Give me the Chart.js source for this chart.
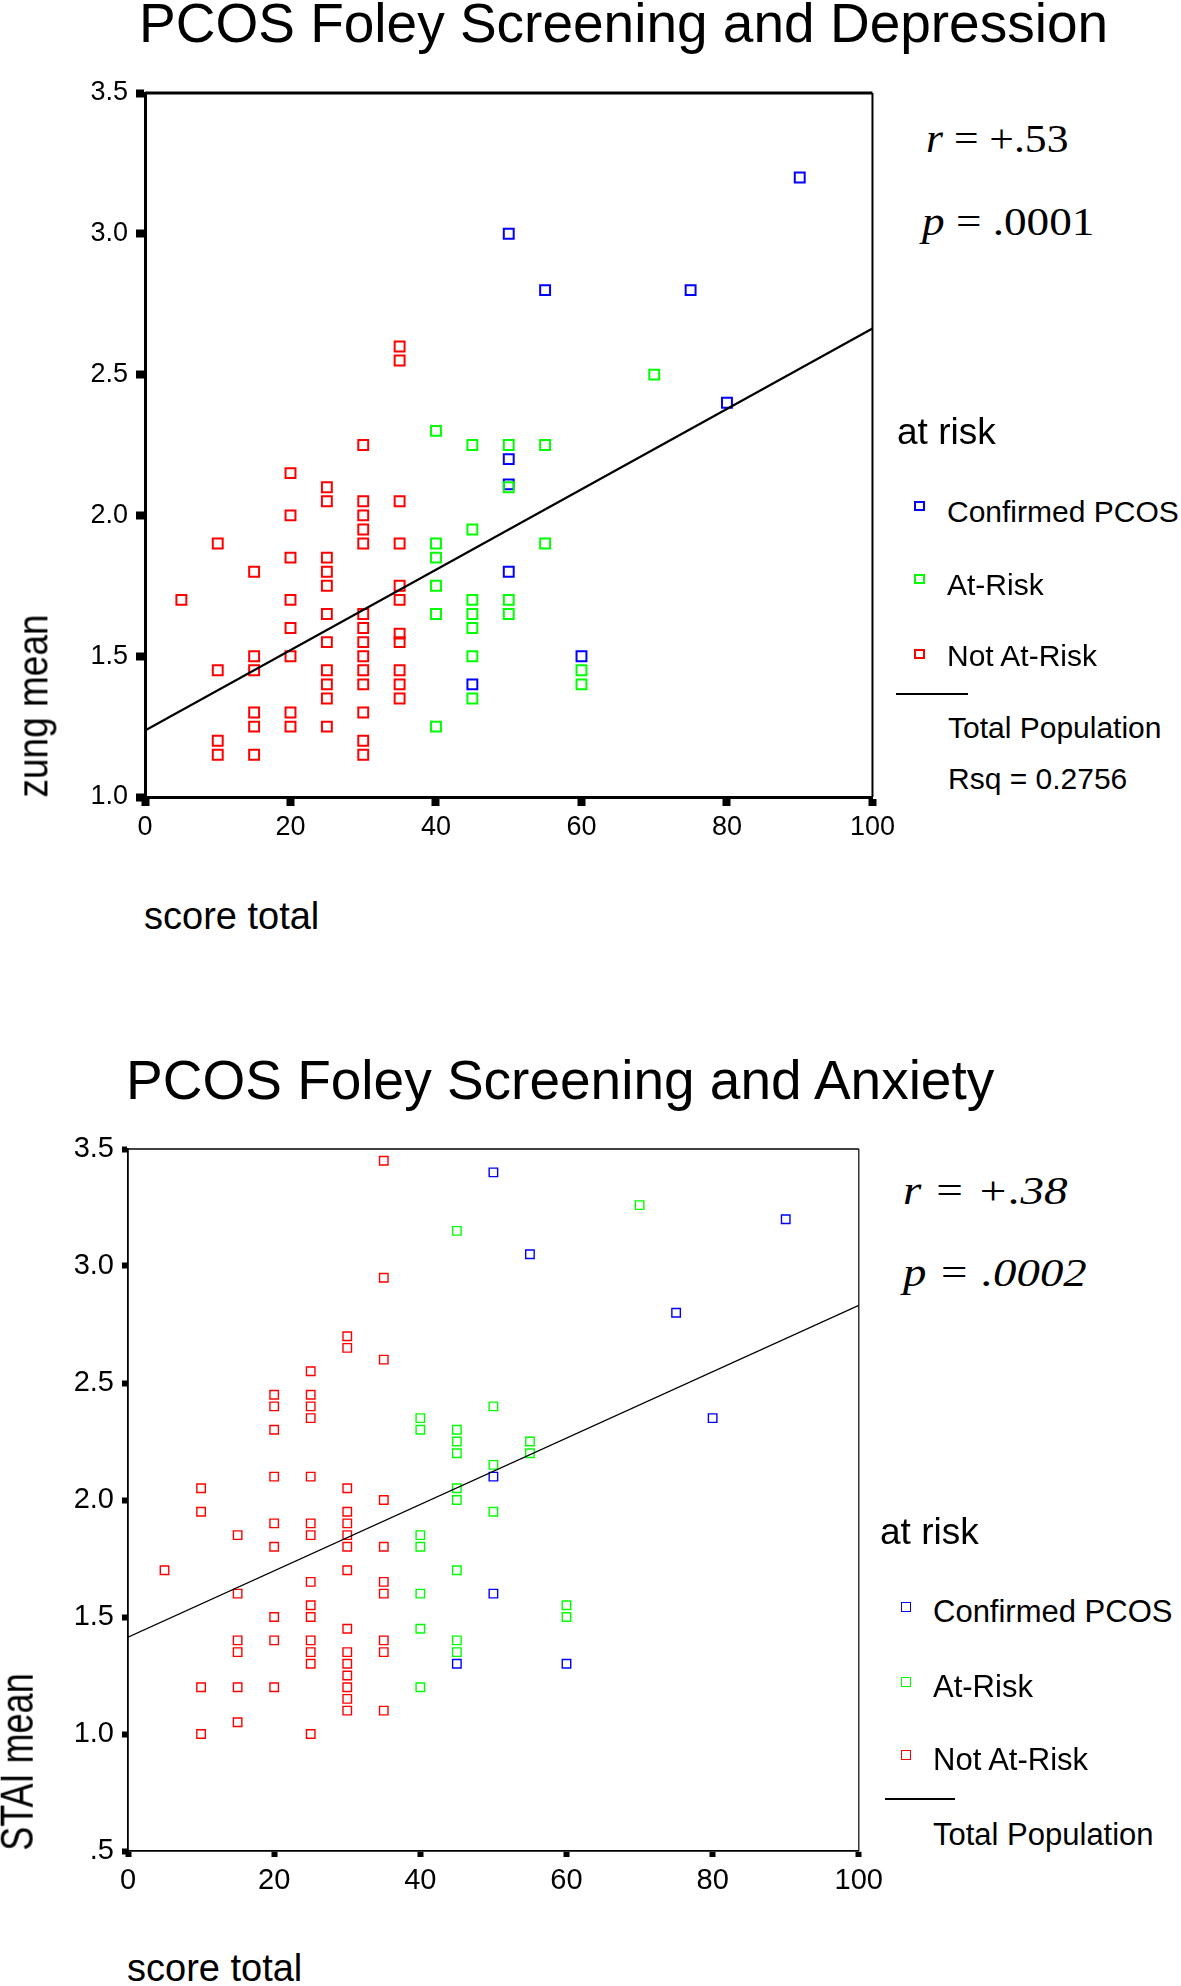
<!DOCTYPE html>
<html lang="en">

<head>
    <meta charset="UTF-8">
    <title>PCOS Foley Screening</title>
    <script src="https://cdn.jsdelivr.net/npm/chart.js"></script>
    <style>
        body,
        html {
            margin: 0;
            padding: 0;
            background: #fff;
        }

        .page {
            position: relative;
            width: 1181px;
            height: 1986px;
            overflow: hidden;
            font-family: "Liberation Sans", Arial, sans-serif;
            color: #000;
        }

        .page canvas {
            position: absolute;
            left: 0;
        }

        .txt {
            position: absolute;
            white-space: nowrap;
            line-height: 1;
        }

        /* r / p values, a little stretched like the original figure */
        .stat {
            position: absolute;
            white-space: nowrap;
            line-height: 1;
            font-family: "Liberation Serif", "Times New Roman", serif;
            transform-origin: 0 0;
        }

        .mark {
            position: absolute;
            box-sizing: border-box;
        }

        .rule {
            position: absolute;
            background: #000;
        }

        .vert {
            position: absolute;
            white-space: nowrap;
            line-height: 1;
        }
    </style>
</head>

<body>
    <div class="page">
        <div class="txt" style="left:139px;top:-4px;font-size:55px">PCOS Foley Screening and Depression</div>
        <canvas id="depChart" width="900" height="800" style="top:60px"></canvas>
        <div class="stat" style="left:926px;top:119px;font-size:40px;transform:scaleX(1.09)"><i>r</i> = +.53</div>
        <div class="stat" style="left:922px;top:202px;font-size:40px;transform:scaleX(1.13)"><i>p</i> = .0001</div>
        <div class="vert" style="left:33px;top:706px;font-size:37px;transform:translate(-50%,-50%) rotate(-90deg) scale(1,1.15)">zung mean</div>
        <div class="txt" style="left:144px;top:897px;font-size:38px">score total</div>

        <div class="txt" style="left:897px;top:413px;font-size:37px">at risk</div>
        <span class="mark" style="left:914px;top:501px;width:11px;height:10px;border:2px solid #0000ff"></span>
        <div class="txt" style="left:947px;top:497px;font-size:30px">Confirmed PCOS</div>
        <span class="mark" style="left:914px;top:574px;width:11px;height:10px;border:2px solid #00ff00"></span>
        <div class="txt" style="left:947px;top:570px;font-size:30px">At-Risk</div>
        <span class="mark" style="left:914px;top:649px;width:11px;height:10px;border:2px solid #ff0000"></span>
        <div class="txt" style="left:947px;top:641px;font-size:30px">Not At-Risk</div>
        <div class="rule" style="left:896px;top:693px;width:72px;height:2px"></div>
        <div class="txt" style="left:948px;top:713px;font-size:30px">Total Population</div>
        <div class="txt" style="left:948px;top:764px;font-size:30px">Rsq = 0.2756</div>

        <div class="txt" style="left:126px;top:1053px;font-size:55px">PCOS Foley Screening and Anxiety</div>
        <canvas id="anxChart" width="890" height="790" style="top:1120px"></canvas>
        <div class="stat" style="left:903px;top:1171px;font-size:40px;font-style:italic;transform:scaleX(1.18)">r = +.38</div>
        <div class="stat" style="left:903px;top:1253px;font-size:40px;font-style:italic;transform:scaleX(1.17)">p = .0002</div>
        <div class="vert" style="left:17px;top:1762px;font-size:36px;transform:translate(-50%,-50%) rotate(-90deg) scale(1,1.3)">STAI mean</div>
        <div class="txt" style="left:127px;top:1949px;font-size:38px">score total</div>

        <div class="txt" style="left:880px;top:1513px;font-size:37px">at risk</div>
        <span class="mark" style="left:901px;top:1602px;width:10px;height:10px;border:1.5px solid #0000ff"></span>
        <div class="txt" style="left:933px;top:1596px;font-size:31px">Confirmed PCOS</div>
        <span class="mark" style="left:901px;top:1677px;width:10px;height:10px;border:1.5px solid #00ff00"></span>
        <div class="txt" style="left:933px;top:1671px;font-size:31px">At-Risk</div>
        <span class="mark" style="left:901px;top:1750px;width:10px;height:10px;border:1.5px solid #ff0000"></span>
        <div class="txt" style="left:933px;top:1744px;font-size:31px">Not At-Risk</div>
        <div class="rule" style="left:885px;top:1798px;width:70px;height:2px"></div>
        <div class="txt" style="left:933px;top:1819px;font-size:31px">Total Population</div>
    </div>

    <script>
        // ---- Depression panel: score total vs zung mean ----
        const depBlueScore = [50, 55, 75, 90, 80, 50, 50, 50, 45, 60];
        const depBlueZung = [3.00, 2.80, 2.80, 3.20, 2.40, 2.20, 2.11, 1.80, 1.40, 1.50];

        const depGreenScore = [40, 40, 40, 40, 40, 40, 45, 45, 45, 45, 45, 45, 45, 50, 50, 50, 50, 55, 55, 60, 60, 70];
        const depGreenZung = [2.30, 1.90, 1.85, 1.75, 1.65, 1.25, 2.25, 1.95, 1.70, 1.65, 1.60, 1.50, 1.35, 2.25, 2.10, 1.70, 1.65, 2.25, 1.90, 1.45, 1.40, 2.50];

        const depRedScore = [5, 10, 10, 10, 10, 15, 15, 15, 15, 15, 15,
            20, 20, 20, 20, 20, 20, 20, 20,
            25, 25, 25, 25, 25, 25, 25, 25, 25, 25, 25,
            30, 30, 30, 30, 30, 30, 30, 30, 30, 30, 30, 30, 30, 30,
            35, 35, 35, 35, 35, 35, 35, 35, 35, 35, 35];
        const depRedZung = [1.70, 1.90, 1.45, 1.20, 1.15, 1.80, 1.50, 1.45, 1.30, 1.25, 1.15,
            2.15, 2.00, 1.85, 1.70, 1.60, 1.50, 1.30, 1.25,
            2.10, 2.05, 1.85, 1.80, 1.75, 1.65, 1.55, 1.45, 1.40, 1.35, 1.25,
            2.25, 2.05, 2.00, 1.95, 1.90, 1.65, 1.60, 1.55, 1.50, 1.45, 1.40, 1.30, 1.20, 1.15,
            2.60, 2.55, 2.05, 1.90, 1.75, 1.70, 1.58, 1.55, 1.45, 1.40, 1.35];

        const depFitScore = [0, 100];
        const depFitZung = [1.236, 2.664];

        // ---- Anxiety panel: score total vs STAI mean ----
        const anxBlueScore = [50, 55, 90, 75, 80, 50, 50, 45, 60];
        const anxBlueStai = [3.40, 3.05, 3.20, 2.80, 2.35, 2.10, 1.60, 1.30, 1.30];

        const anxGreenScore = [40, 40, 40, 40, 40, 40, 40, 45, 45, 45, 45, 45, 45, 45, 45, 45, 50, 50, 50, 55, 55, 60, 60, 70];
        const anxGreenStai = [2.35, 2.30, 1.85, 1.80, 1.60, 1.45, 1.20, 3.15, 2.30, 2.25, 2.20, 2.05, 2.00, 1.70, 1.40, 1.35, 2.40, 2.15, 1.95, 2.25, 2.20, 1.55, 1.50, 3.26];

        const anxRedScore = [5, 10, 10, 10, 10, 15, 15, 15, 15, 15, 15,
            20, 20, 20, 20, 20, 20, 20, 20, 20,
            25, 25, 25, 25, 25, 25, 25, 25, 25, 25, 25, 25, 25, 25,
            30, 30, 30, 30, 30, 30, 30, 30, 30, 30, 30, 30, 30, 30, 30,
            35, 35, 35, 35, 35, 35, 35, 35, 35, 35];
        const anxRedStai = [1.70, 2.05, 1.95, 1.20, 1.00, 1.85, 1.60, 1.40, 1.35, 1.20, 1.05,
            2.45, 2.40, 2.30, 2.10, 1.90, 1.80, 1.50, 1.40, 1.20,
            2.55, 2.45, 2.40, 2.35, 2.10, 1.90, 1.85, 1.65, 1.55, 1.50, 1.40, 1.35, 1.30, 1.00,
            2.70, 2.65, 2.05, 1.95, 1.90, 1.85, 1.80, 1.70, 1.45, 1.35, 1.30, 1.25, 1.20, 1.15, 1.10,
            3.45, 2.95, 2.60, 2.00, 1.80, 1.65, 1.60, 1.40, 1.35, 1.10];

        const anxFitScore = [0, 100];
        const anxFitStai = [1.414, 2.832];

        const BLUE = '#0000ff', GREEN = '#00ff00', RED = '#ff0000';
        const FONT = '"Liberation Sans", Arial, sans-serif';

        const pts = (xs, ys) => xs.map((x, i) => ({ x: x, y: ys[i] }));

        // top and right edges of the plot box
        const frameLines = {
            id: 'frameLines',
            afterDraw(chart, args, opts) {
                const { ctx, chartArea: a } = chart;
                ctx.save();
                ctx.strokeStyle = '#000';
                ctx.lineWidth = opts.top;
                ctx.beginPath();
                ctx.moveTo(a.left, a.top);
                ctx.lineTo(a.right, a.top);
                ctx.stroke();
                ctx.lineWidth = opts.right;
                ctx.beginPath();
                ctx.moveTo(a.right, a.top);
                ctx.lineTo(a.right, a.bottom);
                ctx.stroke();
                ctx.restore();
            }
        };

        function pointSet(data, color, o) {
            return {
                data: data,
                showLine: false,
                pointStyle: 'rect',
                pointRadius: o.r,
                pointHoverRadius: o.r,
                pointBorderWidth: o.pw,
                pointBorderColor: color,
                pointBackgroundColor: 'rgba(0,0,0,0)'
            };
        }

        function makeScatter(id, groups, fit, o) {
            // index 0 is painted last, so the fit line sits on top and blue goes underneath
            const datasets = [{
                data: fit,
                showLine: true,
                borderColor: '#000',
                borderWidth: o.lineW,
                pointRadius: 0,
                pointHoverRadius: 0
            },
            pointSet(groups.red, RED, o),
            pointSet(groups.green, GREEN, o),
            pointSet(groups.blue, BLUE, o)];

            new Chart(document.getElementById(id), {
                type: 'scatter',
                data: { datasets: datasets },
                options: {
                    responsive: false,
                    animation: false,
                    devicePixelRatio: 1,
                    layout: { padding: { top: o.padTop, right: o.padRight, left: 0, bottom: 0 } },
                    plugins: {
                        legend: { display: false },
                        tooltip: { enabled: false },
                        frameLines: { top: o.frameTop, right: o.frameRight }
                    },
                    scales: {
                        x: {
                            type: 'linear',
                            min: 0,
                            max: 100,
                            afterFit: (s) => { s.height = o.xH; },
                            border: { display: true, color: '#000', width: o.axisW },
                            grid: { drawOnChartArea: false, drawTicks: true, tickLength: o.tickL, tickWidth: o.tickW, tickColor: '#000' },
                            ticks: { stepSize: 20, maxRotation: 0, color: '#000', padding: o.xPad, font: { family: FONT, size: o.tickFont } }
                        },
                        y: {
                            type: 'linear',
                            min: o.yMin,
                            max: 3.5,
                            afterFit: (s) => { s.width = o.yW; },
                            border: { display: true, color: '#000', width: o.axisW },
                            grid: { drawOnChartArea: false, drawTicks: true, tickLength: o.tickL, tickWidth: o.tickW, tickColor: '#000' },
                            ticks: {
                                stepSize: 0.5,
                                color: '#000',
                                padding: o.yPad,
                                font: { family: FONT, size: o.tickFont },
                                callback: (v) => Math.abs(v - 0.5) < 1e-9 ? '.5' : v.toFixed(1)
                            }
                        }
                    }
                },
                plugins: [frameLines]
            });
        }

        makeScatter('depChart', {
            blue: pts(depBlueScore, depBlueZung),
            green: pts(depGreenScore, depGreenZung),
            red: pts(depRedScore, depRedZung)
        }, pts(depFitScore, depFitZung), {
            r: 7, pw: 2, lineW: 2.2, yMin: 1.0,
            padTop: 33, padRight: 26, xH: 63, yW: 145,
            axisW: 3, tickL: 9, tickW: 8, frameTop: 3, frameRight: 2,
            xPad: 5, yPad: 8, tickFont: 27
        });

        makeScatter('anxChart', {
            blue: pts(anxBlueScore, anxBlueStai),
            green: pts(anxGreenScore, anxGreenStai),
            red: pts(anxRedScore, anxRedStai)
        }, pts(anxFitScore, anxFitStai), {
            r: 6, pw: 1.4, lineW: 1.2, yMin: 0.5,
            padTop: 29, padRight: 31, xH: 59, yW: 128,
            axisW: 1.8, tickL: 6, tickW: 6, frameTop: 1.5, frameRight: 1.2,
            xPad: 7, yPad: 8, tickFont: 29
        });
    </script>
</body>

</html>
